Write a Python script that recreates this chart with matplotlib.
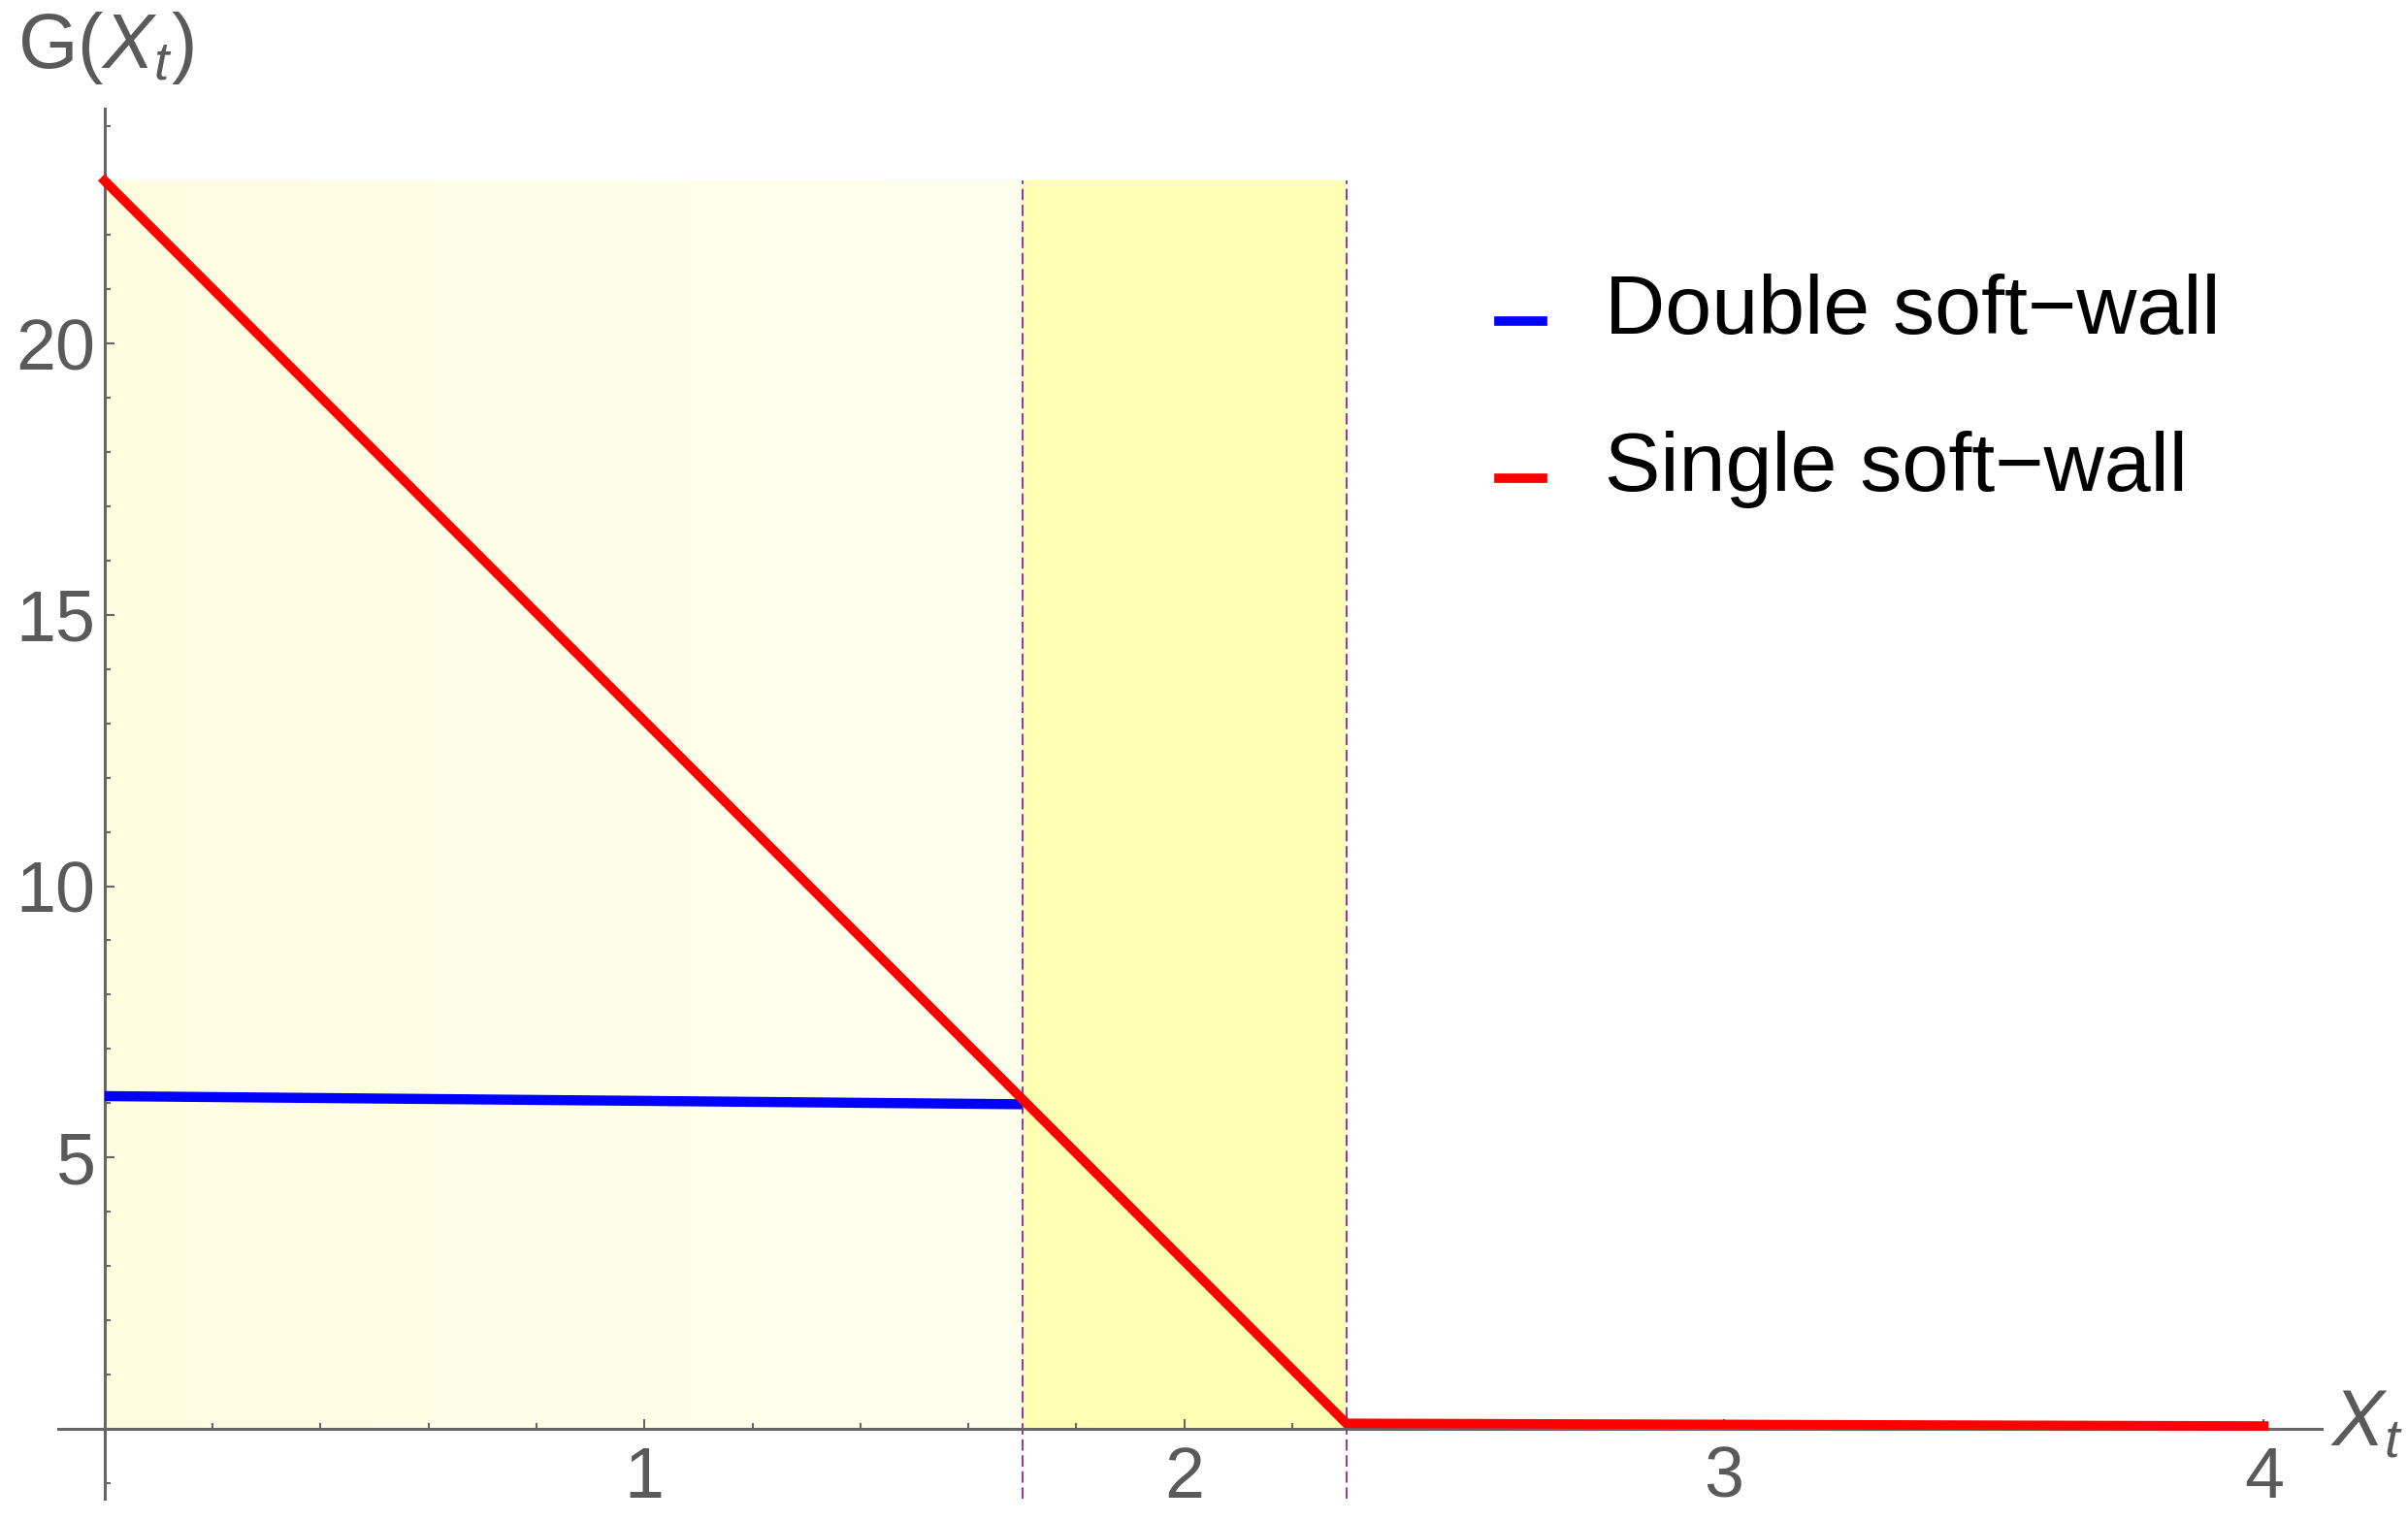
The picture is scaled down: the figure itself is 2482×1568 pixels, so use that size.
import numpy as np
import matplotlib
matplotlib.use("Agg")
import matplotlib.pyplot as plt
from matplotlib.ticker import MultipleLocator, FixedLocator
from matplotlib.colors import LinearSegmentedColormap
from matplotlib.lines import Line2D
from matplotlib.legend_handler import HandlerLine2D

# data
x_double = [0.0, 1.70]
g_double = [6.13, 5.98]

x_single = [0.0, 2.30, 4.0]
g_single = [23.0, 0.10, 0.05]

walls = [1.70, 2.30]     # dashed boundaries
g_top = 23.0              # top of the shaded band

x_major = [1, 2, 3, 4]
y_major = [5, 10, 15, 20]

plt.rcParams['font.family'] = ['Liberation Sans', 'DejaVu Sans']
plt.rcParams['mathtext.fontset'] = 'custom'
plt.rcParams['mathtext.rm'] = 'Liberation Sans'
plt.rcParams['mathtext.it'] = 'Liberation Sans:italic'


class LowHandler(HandlerLine2D):
    # mathematica puts the legend swatch near the text baseline
    def create_artists(self, legend, orig_handle, xdescent, ydescent,
                       width, height, fontsize, trans):
        arts = super().create_artists(legend, orig_handle, xdescent, ydescent,
                                      width, height, fontsize, trans)
        for a in arts:
            a.set_ydata(np.asarray(a.get_ydata()) - 0.2 * fontsize)
        return arts


fig = plt.figure(figsize=(24.82, 15.68), dpi=100)
ax = fig.add_axes([60 / 2482, 1 - 1545 / 1568, 2333 / 2482, 1433 / 1568])
ax.set_xlim(-0.086, 4.107)
ax.set_ylim(-1.29, 24.33)

# shaded regions
cmap = LinearSegmentedColormap.from_list('ly', ['#FEFDE0', '#FFFFEE'])
grad = np.linspace(0, 1, 256).reshape(1, -1)
ax.imshow(grad, cmap=cmap, extent=[0, walls[0], 0, g_top], aspect='auto',
          zorder=0, interpolation='bilinear')
ax.fill_between([walls[0], walls[1]], 0, g_top, color='#FFFFB3', lw=0, zorder=0)
ax.vlines(walls, ax.get_ylim()[0], g_top, colors='#A030A0', lw=1.4,
          linestyles=(0, (6, 2.5)), zorder=1)

ax.plot(x_double, g_double, color='#0000FF', lw=7.5, solid_capstyle='butt', zorder=3)
ax.plot(x_single, g_single, color='#FF0000', lw=7, solid_joinstyle='miter', zorder=4)

# mathematica style axes through the origin
for s in ['top', 'right']:
    ax.spines[s].set_visible(False)
ax.spines['left'].set_position(('data', 0))
ax.spines['bottom'].set_position(('data', 0))
for s in ['left', 'bottom']:
    ax.spines[s].set_color('#666666')
    ax.spines[s].set_linewidth(2.2)
    ax.spines[s].set_zorder(2)

ax.xaxis.set_major_locator(FixedLocator(x_major))
ax.yaxis.set_major_locator(FixedLocator(y_major))
ax.xaxis.set_minor_locator(MultipleLocator(0.2))
ax.yaxis.set_minor_locator(MultipleLocator(1))
ax.tick_params(which='both', direction='in', color='#666666', width=1.5)
ax.tick_params(which='major', length=7.5, labelsize=53, labelcolor='#5a5a5a')
ax.tick_params(which='minor', length=4.5)
ax.tick_params(axis='x', pad=12)
ax.tick_params(axis='y', pad=7)
ax.patch.set_alpha(0)

fig.text(18 / 2482, 1 - 10 / 1568, r'G$(X_t)$', fontsize=57, color='#5a5a5a',
         ha='left', va='top')
fig.text(2402 / 2482, 1 - 1470 / 1568, r'$X_t$', fontsize=58, color='#5a5a5a',
         ha='left', va='center')

handles = [Line2D([], [], color='#0000FF', lw=7),
           Line2D([], [], color='#FF0000', lw=7)]
ax.legend(handles, ['Double soft\u2212wall', 'Single soft\u2212wall'],
          loc='upper left', bbox_to_anchor=(1545 / 2482, 1 - 282 / 1568),
          bbox_transform=fig.transFigure, frameon=False, fontsize=62,
          handlelength=0.52, handletextpad=0.75, labelspacing=0.95,
          borderpad=0, borderaxespad=0,
          handler_map={Line2D: LowHandler()})

fig.savefig('out.png', dpi=100)
